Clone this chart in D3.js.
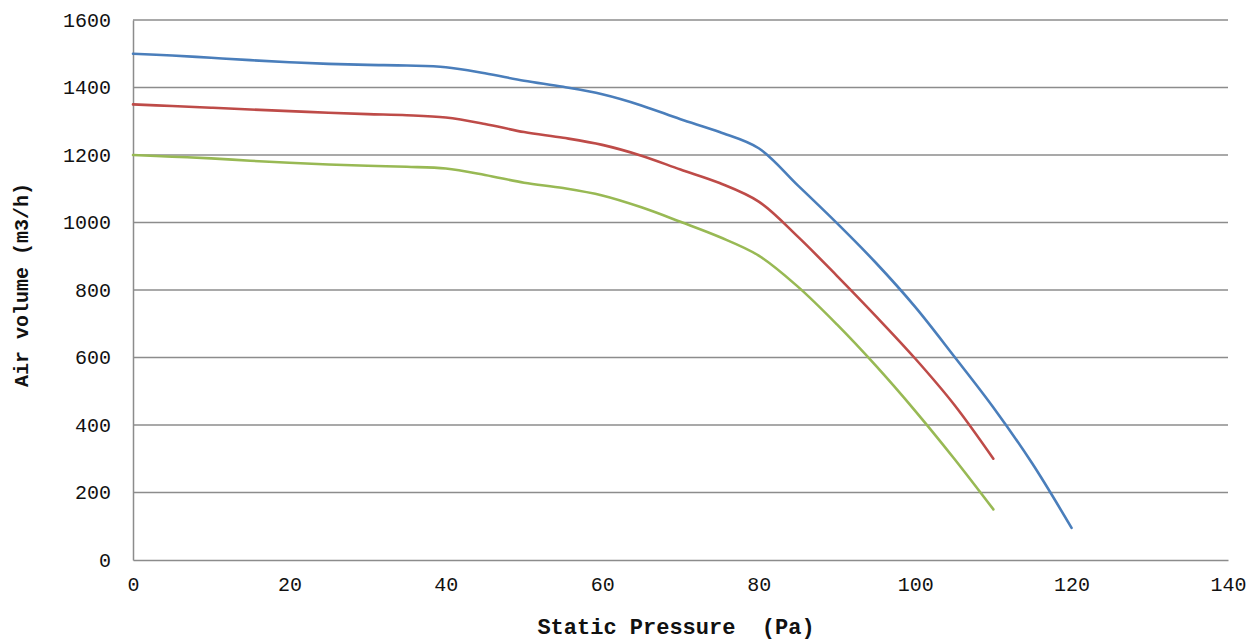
<!DOCTYPE html>
<html>
<head>
<meta charset="utf-8">
<script src="https://cdn.jsdelivr.net/npm/d3@7"></script>
<style>
  body { margin: 0; background: #fff; }
  svg { display: block; }
</style>
</head>
<body>
<svg id="chart" width="1254" height="641"></svg>
<script>
const pressure = [0,5,10,15,20,25,30,35,40,45,50,55,60,65,70,75,80,85,90,95,100,105,110,115,120];
const blueValues  = [1500,1495,1488,1481,1475,1470,1467,1465,1460,1442,1420,1402,1380,1347,1306,1268,1220,1110,998,880,750,603,452,285,95];
const redValues   = [1350,1345,1340,1335,1330,1325,1321,1318,1311,1292,1268,1251,1230,1198,1157,1117,1062,958,842,722,597,460,300];
const greenValues = [1200,1195,1190,1183,1177,1172,1168,1165,1160,1141,1118,1102,1080,1045,1002,957,902,810,698,575,442,300,150];
const xTicks = [0,20,40,60,80,100,120,140];
const yTicks = [0,200,400,600,800,1000,1200,1400,1600];
const seriesColors = ["#4a7ebb", "#be4b48", "#98b954"];
const xTitle = "Static Pressure  (Pa)";
const yTitle = "Air volume (m3/h)";

(function () {
const svg = d3.select("#chart");
const mLeft = 133, mRight = 1228, mTop = 20, mBottom = 560;
const x = d3.scaleLinear().domain([0,140]).range([mLeft, mRight]);
const y = d3.scaleLinear().domain([0,1600]).range([mBottom, mTop]);
const font = "'Liberation Mono', 'DejaVu Sans Mono', monospace";

// gridlines
svg.append("g").selectAll("line").data(yTicks.filter(d => d > 0)).join("line")
  .attr("x1", mLeft).attr("x2", mRight)
  .attr("y1", d => y(d)).attr("y2", d => y(d))
  .attr("stroke", "#8c8c8c").attr("stroke-width", 1.5);

// axes
const yAxis = svg.append("g").attr("transform", `translate(${mLeft},0)`)
  .call(d3.axisLeft(y).tickValues(yTicks).tickFormat(d3.format("d")).tickSize(0).tickPadding(22));
const xAxis = svg.append("g").attr("transform", `translate(0,${mBottom})`)
  .call(d3.axisBottom(x).tickValues(xTicks).tickFormat(d3.format("d")).tickSize(0).tickPadding(17));
[yAxis, xAxis].forEach(g => {
  g.select(".domain").attr("stroke", "#8c8c8c").attr("stroke-width", 1.5);
  g.selectAll("text").attr("font-family", font).attr("font-size", 20).attr("fill", "#111");
});

// lines
const line = d3.line().x((d, i) => x(pressure[i])).y(d => y(d)).curve(d3.curveCatmullRom.alpha(0.5));
[blueValues, redValues, greenValues].forEach((vals, k) => {
  svg.append("path").datum(vals)
    .attr("d", line)
    .attr("fill", "none")
    .attr("stroke", seriesColors[k])
    .attr("stroke-width", 2.6)
    .attr("stroke-linecap", "round");
});

// titles
svg.append("text").attr("x", 676).attr("y", 634)
  .attr("text-anchor", "middle")
  .attr("font-family", font).attr("font-size", 22).attr("font-weight", "bold")
  .attr("fill", "#111").style("white-space", "pre")
  .text(xTitle);
svg.append("text")
  .attr("transform", `translate(28,${(mTop + mBottom) / 2 - 5}) rotate(-90)`)
  .attr("text-anchor", "middle")
  .attr("font-family", font).attr("font-size", 20).attr("font-weight", "bold")
  .attr("fill", "#111")
  .text(yTitle);
})();
</script>
</body>
</html>
